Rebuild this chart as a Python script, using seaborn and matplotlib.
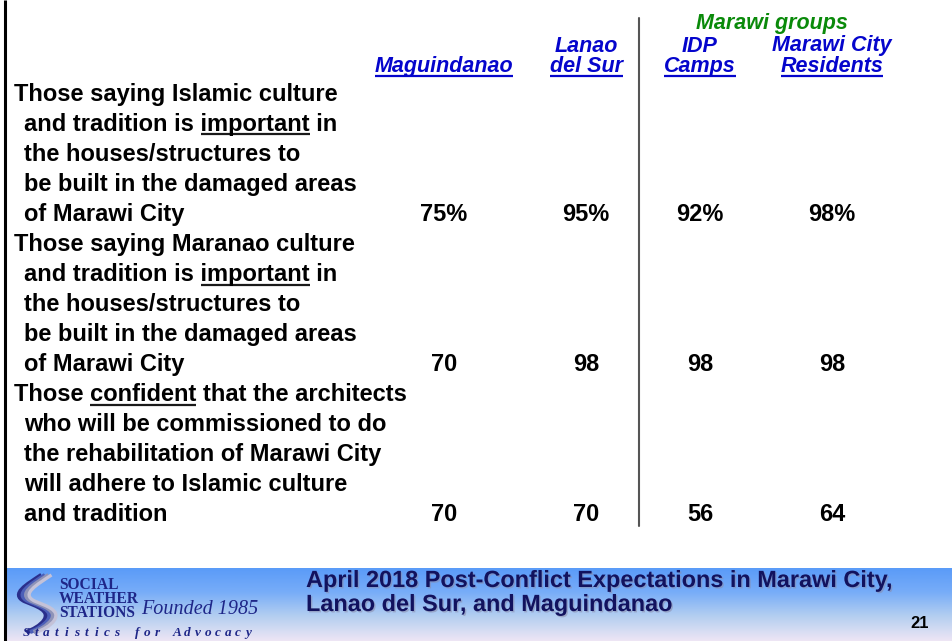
import matplotlib
matplotlib.use("Agg")
import matplotlib.pyplot as plt
import matplotlib.patheffects as pe
from matplotlib.path import Path
from matplotlib.patches import PathPatch
import numpy as np
import pandas as pd
import seaborn as sns

# ---------------- data ----------------
groups = ["Maguindanao", "Lanao del Sur", "IDP Camps", "Marawi City Residents"]
header_lines = [["Maguindanao"], ["Lanao", "del Sur"], ["IDP", "Camps"],
                ["Marawi City", "Residents"]]
supergroup_label = "Marawi groups"

row_labels = [
    ["Those saying Islamic culture", "and tradition is important in",
     "the houses/structures to", "be built in the damaged areas",
     "of Marawi City"],
    ["Those saying Maranao culture", "and tradition is important in",
     "the houses/structures to", "be built in the damaged areas",
     "of Marawi City"],
    ["Those confident that the architects", "who will be commissioned to do",
     "the rehabilitation of Marawi City", "will adhere to Islamic culture",
     "and tradition"],
]
underlined_word = [(1, "important"), (1, "important"), (0, "confident")]

maguindanao = [75, 70, 70]
lanao_del_sur = [95, 98, 70]
idp_camps = [92, 98, 56]
marawi_city_residents = [98, 98, 64]
value_suffix = ["%", "", ""]

footer_title = ["April 2018 Post-Conflict Expectations in Marawi City,",
                "Lanao del Sur, and Maguindanao"]
page_number = "21"
logo_lines = ["SOCIAL", "WEATHER", "STATIONS"]
logo_founded = "Founded 1985"
logo_tagline = "Statistics for Advocacy"

df = pd.DataFrame({
    groups[0]: maguindanao,
    groups[1]: lanao_del_sur,
    groups[2]: idp_camps,
    groups[3]: marawi_city_residents,
})

# ---------------- style ----------------
sns.set_theme(style="white")
plt.rcParams["font.family"] = ["Liberation Sans", "DejaVu Sans"]

W, H = 952, 641
fig = plt.figure(figsize=(W / 100, H / 100), dpi=100)
ax = fig.add_axes([0, 0, 1, 1])
ax.set_xlim(0, W)
ax.set_ylim(H, 0)
ax.axis("off")
renderer = fig.canvas.get_renderer()
inv = ax.transData.inverted()

BLUE = "#0505CC"
GREEN = "#0A8A0A"
NAVY = "#12125E"


def text_width(s, **kw):
    t = ax.text(0, 0, s, ha="left", va="baseline", **kw)
    bb = t.get_window_extent(renderer)
    t.remove()
    return bb.width


def draw_text(x, y, s, ha="left", underline=None, ul_all=False, ul_color="k",
              ul_lw=1.5, ul_off=3.2, **kw):
    t = ax.text(x, y, s, ha=ha, va="baseline", **kw)
    if underline is None and not ul_all:
        return t
    bb = t.get_window_extent(renderer)
    x0 = inv.transform((bb.x0, 0))[0]
    if ul_all:
        xa, xb = x0, inv.transform((bb.x1, 0))[0]
    else:
        i = s.index(underline)
        end = x0 + text_width(s[: i + len(underline)], **kw)
        xa = end - text_width(underline, **kw)
        xb = end
    ax.plot([xa, xb], [y + ul_off, y + ul_off], color=ul_color, lw=ul_lw,
            solid_capstyle="butt")
    return t


# ---------------- layout ----------------
col_x = [444, 586, 700, 832]
line_y0 = 100.5
line_step = 30.07
x_first, x_indent = 14, 24
body_fs = 17
head_fs = 15.5

# left border
ax.plot([5, 5], [0, H], color="black", lw=2.2, solid_capstyle="butt")

# divider
ax.plot([638.5, 638.5], [18, 526], color="#555555", lw=1.5)

# headers
ax.text(772, 29, supergroup_label, ha="center", va="baseline", color=GREEN,
        fontsize=head_fs, fontweight="bold", fontstyle="italic")
for cx, lines in zip(col_x, header_lines):
    n = len(lines)
    for k, s in enumerate(lines):
        yb = 72 - (n - 1 - k) * 20.5
        draw_text(cx, yb, s, ha="center", ul_all=(k == n - 1), ul_color=BLUE,
                  ul_lw=1.6, ul_off=3.8, color=BLUE, fontsize=head_fs,
                  fontweight="bold", fontstyle="italic")

# body rows
line_no = 0
for r, lines in enumerate(row_labels):
    ul_idx, ul_word = underlined_word[r]
    for k, s in enumerate(lines):
        yb = line_y0 + line_no * line_step
        xs = x_first if k == 0 else x_indent
        draw_text(xs, yb, s, underline=(ul_word if k == ul_idx else None),
                  ul_lw=1.6, ul_off=3.6, color="black", fontsize=body_fs,
                  fontweight="bold")
        line_no += 1
    yb_val = line_y0 + (line_no - 1) * line_step
    for c, g in enumerate(df.columns):
        ax.text(col_x[c], yb_val, f"{df.loc[r, g]}{value_suffix[r]}",
                ha="center", va="baseline", color="black", fontsize=body_fs,
                fontweight="bold")

# ---------------- footer band ----------------
band_top = 568
cmap = sns.blend_palette(["#5A9BF8", "#78ADF8", "#B5CFF0", "#EEE6F5"],
                         as_cmap=True)
grad = np.linspace(0, 1, 256).reshape(-1, 1)
ax.imshow(grad, cmap=cmap, extent=(6.2, W, H, band_top), aspect="auto",
          zorder=0.5)
ax.set_xlim(0, W)
ax.set_ylim(H, 0)

shadow = [pe.SimplePatchShadow(offset=(1.0, -1.0), shadow_rgbFace="#8a8aa8",
                               alpha=0.55), pe.Normal()]
for k, s in enumerate(footer_title):
    ax.text(306, 587 + k * 24, s, ha="left", va="baseline", color=NAVY,
            fontsize=16.9, fontweight="bold", path_effects=shadow, zorder=3)
ax.text(920, 628, page_number, ha="center", va="baseline", color="black",
        fontsize=12, fontweight="bold", zorder=3)

# logo swoosh
def swoosh(dx, color, lw):
    verts = [(45 + dx, 575), (30 + dx, 585), (14 + dx, 594), (28 + dx, 601),
             (40 + dx, 606), (54 + dx, 610), (48 + dx, 620),
             (44 + dx, 626), (36 + dx, 630), (30 + dx, 632)]
    codes = [Path.MOVETO, Path.CURVE4, Path.CURVE4, Path.CURVE4,
             Path.CURVE4, Path.CURVE4, Path.CURVE4,
             Path.CURVE4, Path.CURVE4, Path.CURVE4]
    ax.add_patch(PathPatch(Path(verts, codes), fill=False, edgecolor=color,
                           lw=lw, capstyle="butt", zorder=2))

swoosh(-3.5, "#2A2F8C", 3.2)
swoosh(0.0, "#4C5FB8", 3.0)
swoosh(3.5, "#8E93B8", 3.0)
swoosh(6.5, "#C4C2D8", 2.4)

ax.text(59, 617, "\n".join(logo_lines), ha="left", va="baseline",
        color="#1E2688", fontsize=11.2, fontweight="bold",
        family="Liberation Serif", linespacing=0.82, zorder=3)
ax.text(141, 614, logo_founded, ha="left", va="baseline", color="#1E2688",
        fontsize=14.5, fontstyle="italic", family="Liberation Serif", zorder=3)
pitch = 10.1
for k, ch in enumerate(logo_tagline):
    ax.text(26 + k * pitch, 636, ch, ha="center", va="baseline",
            color="#1E2688", fontsize=9.5, fontweight="bold",
            fontstyle="italic", family="Liberation Serif", zorder=3)

fig.savefig("out.png", dpi=100)
